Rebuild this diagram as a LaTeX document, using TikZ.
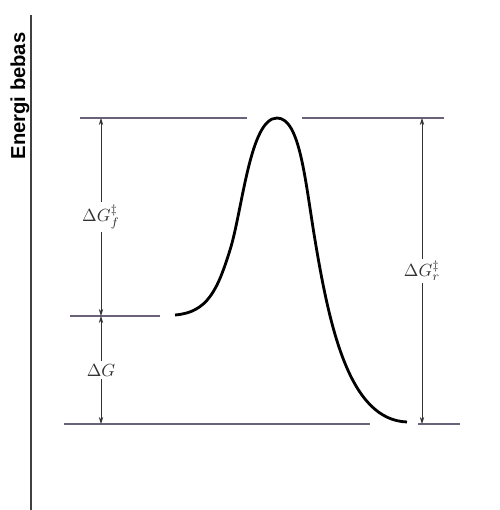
\documentclass[tikz,border=0pt]{standalone}
\usepackage{amsmath}
\usepackage{fontspec}
\newfontfamily\axisfont{Liberation Sans}
\usepackage{tikz}
\usetikzlibrary{arrows.meta, positioning}

\definecolor{levelgray}{RGB}{105,98,120}

\begin{document}
\begin{tikzpicture}[
    level/.style={draw, line width=1.1pt, color=levelgray},
    curve/.style={draw, line width=1.6pt, black},
    dim/.style={draw, thin, black!80, {Stealth[length=4pt,width=2.5pt]}-{Stealth[length=4pt,width=2.5pt]}},
    lbl/.style={fill=white, inner sep=1.5pt, font=\normalsize}
]
\useasboundingbox (0,0) rectangle (10,10.2);
% axis and its label
\draw[line width=1.1pt, black!75] (0.62,0) -- (0.62,9.9);
\node[rotate=90, font=\axisfont\bfseries\fontsize{11.5}{12}\selectfont] (ylab) at (0.40,8.28) {Energi bebas};
% energy levels
\coordinate (topL) at (2.02,7.84);
\coordinate (midL) at (2.02,3.88);
\coordinate (botL) at (2.02,1.72);
\coordinate (topR) at (8.44,7.84);
\coordinate (botR) at (8.44,1.72);
\draw[level] (1.6,7.84) -- (4.94,7.84);
\draw[level] (6.04,7.84) -- (8.88,7.84);
\draw[level] (1.4,3.88) -- (3.2,3.88);
\draw[level] (1.28,1.72) -- (7.4,1.72);
\draw[level] (8.36,1.72) -- (9.2,1.72);
% reaction profile
\draw[curve] (3.5,3.9) .. controls (4.15,3.95) and (4.35,4.4) .. (4.6,5.2)
    .. controls (4.85,6.0) and (5.0,7.84) .. (5.54,7.84)
    .. controls (6.0,7.84) and (6.1,6.6) .. (6.3,5.4)
    .. controls (6.6,3.6) and (7.0,1.8) .. (8.14,1.76);
% differences
\draw[dim] (topL) -- node[lbl] (dgf) {$\Delta G_f^{\ddagger}$} (midL);
\draw[dim] (midL) -- node[lbl] (dg) {$\Delta G$} (botL);
\draw[dim] (topR) -- node[lbl] (dgr) {$\Delta G_r^{\ddagger}$} (botR);
\end{tikzpicture}
\end{document}
